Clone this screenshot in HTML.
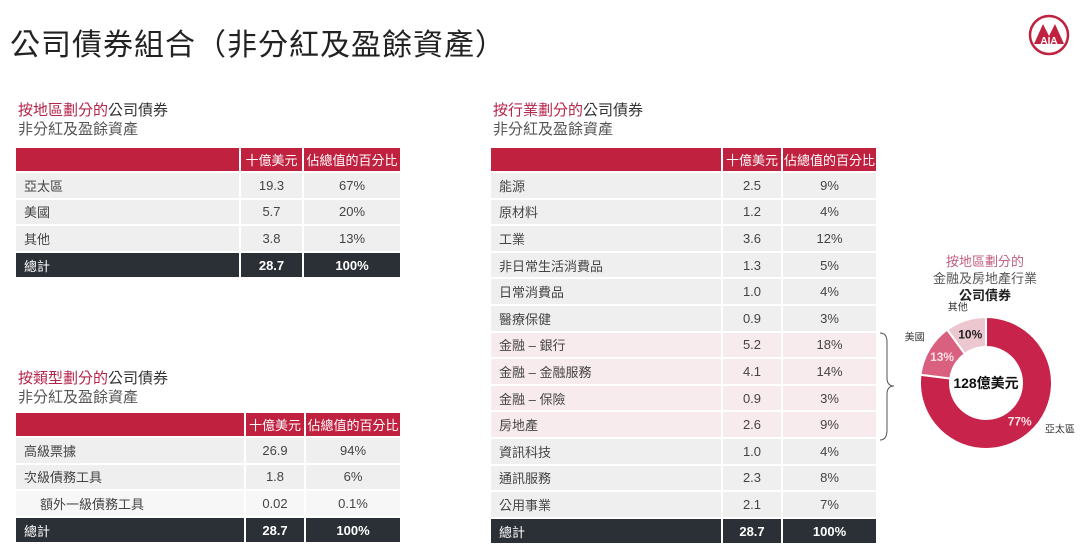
<!DOCTYPE html>
<html><head><meta charset="utf-8">
<style>
body{margin:0;width:1080px;height:552px;background:#fff;overflow:hidden;position:relative;font-family:"Liberation Sans","Noto Sans CJK TC",sans-serif;color:#444}
.abs{position:absolute}
h1{position:absolute;left:10px;top:20px;margin:0;font-size:30px;font-weight:400;color:#222;letter-spacing:1px}
.sec{position:absolute;font-size:15px;line-height:19px;color:#333}
.sec .r{color:#b5244a}
.sec .sub{color:#555;font-size:15px}
table{position:absolute;border-collapse:collapse;font-size:13px}
td{padding:0 0 0 8px;border:1px solid #fff;border-width:0 2px 2px 0;background:#efefef;height:24.6px;color:#444}
td.n{text-align:center;padding:0}
tr.h td{background:#c0213f;color:#fff;height:23px}
tr.t td{background:#2b2f36;color:#fff;font-weight:bold}
tr.t td:first-child{font-weight:normal}
tr.p td{background:#f8ebed}
</style></head><body>
<h1>公司債券組合（非分紅及盈餘資產）</h1>
<svg class="abs" style="left:1024px;top:14px" width="50" height="42">
<circle cx="25" cy="21" r="19" fill="none" stroke="#c0213f" stroke-width="2.5"/>
<path d="M10 30 L19 10 L25 22 L31 10 L40 30 Z" fill="#c0213f"/>
<text x="25" y="30" font-size="10" font-weight="bold" fill="#fff" text-anchor="middle" font-family="Liberation Sans">AIA</text>
</svg>

<div class="sec" style="left:18px;top:101px"><span class="r">按地區劃分的</span>公司債券<br><span class="sub">非分紅及盈餘資產</span></div>
<table style="left:16px;top:148px;width:386px">
<colgroup><col style="width:224px"><col style="width:63px"><col></colgroup>
<tr class="h"><td></td><td class="n">十億美元</td><td class="n">佔總值的百分比</td></tr>
<tr><td>亞太區</td><td class="n">19.3</td><td class="n">67%</td></tr>
<tr><td>美國</td><td class="n">5.7</td><td class="n">20%</td></tr>
<tr><td>其他</td><td class="n">3.8</td><td class="n">13%</td></tr>
<tr class="t"><td>總計</td><td class="n">28.7</td><td class="n">100%</td></tr>
</table>

<div class="sec" style="left:18px;top:369px"><span class="r">按類型劃分的</span>公司債券<br><span class="sub">非分紅及盈餘資產</span></div>
<table style="left:16px;top:413px;width:386px">
<colgroup><col style="width:229px"><col style="width:60px"><col></colgroup>
<tr class="h"><td></td><td class="n">十億美元</td><td class="n">佔總值的百分比</td></tr>
<tr><td>高級票據</td><td class="n">26.9</td><td class="n">94%</td></tr>
<tr><td>次級債務工具</td><td class="n">1.8</td><td class="n">6%</td></tr>
<tr><td style="padding-left:24px;background:#f7f7f7">額外一級債務工具</td><td class="n" style="background:#f7f7f7">0.02</td><td class="n" style="background:#f7f7f7">0.1%</td></tr>
<tr class="t"><td>總計</td><td class="n">28.7</td><td class="n">100%</td></tr>
</table>

<div class="sec" style="left:493px;top:101px"><span class="r">按行業劃分的</span>公司債券<br><span class="sub">非分紅及盈餘資產</span></div>
<table style="left:491px;top:148px;width:387px">
<colgroup><col style="width:231px"><col style="width:60px"><col></colgroup>
<tr class="h"><td></td><td class="n">十億美元</td><td class="n">佔總值的百分比</td></tr>
<tr><td>能源</td><td class="n">2.5</td><td class="n">9%</td></tr>
<tr><td>原材料</td><td class="n">1.2</td><td class="n">4%</td></tr>
<tr><td>工業</td><td class="n">3.6</td><td class="n">12%</td></tr>
<tr><td>非日常生活消費品</td><td class="n">1.3</td><td class="n">5%</td></tr>
<tr><td>日常消費品</td><td class="n">1.0</td><td class="n">4%</td></tr>
<tr><td>醫療保健</td><td class="n">0.9</td><td class="n">3%</td></tr>
<tr class="p"><td>金融 – 銀行</td><td class="n">5.2</td><td class="n">18%</td></tr>
<tr class="p"><td>金融 – 金融服務</td><td class="n">4.1</td><td class="n">14%</td></tr>
<tr class="p"><td>金融 – 保險</td><td class="n">0.9</td><td class="n">3%</td></tr>
<tr class="p"><td>房地產</td><td class="n">2.6</td><td class="n">9%</td></tr>
<tr><td>資訊科技</td><td class="n">1.0</td><td class="n">4%</td></tr>
<tr><td>通訊服務</td><td class="n">2.3</td><td class="n">8%</td></tr>
<tr><td>公用事業</td><td class="n">2.1</td><td class="n">7%</td></tr>
<tr class="t"><td>總計</td><td class="n">28.7</td><td class="n">100%</td></tr>
</table>

<svg class="abs" style="left:878px;top:330px" width="20" height="115">
<path d="M2 3 Q9 3 9 12 L9 48 Q9 56 16 56 Q9 56 9 64 L9 100 Q9 110 2 110" fill="none" stroke="#555" stroke-width="1"/>
</svg>

<div class="abs" style="left:905px;top:253px;width:160px;text-align:center;font-size:13px;line-height:17px;color:#555"><span style="color:#c06080">按地區劃分的</span><br>金融及房地產行業<br><b style="color:#222">公司債券</b></div>

<svg id="donut" class="abs" style="left:880px;top:300px" width="200" height="170"></svg>
<script>
const regions=["亞太區","美國","其他"];
const shares=[77,13,10];
const colors=["#c8234a","#d9607e","#edc7d0"];
const total="128億美元";
const svg=document.getElementById('donut');
const NS="http://www.w3.org/2000/svg";
const cx=106,cy=83,R=66,r=36;
const sum=shares.reduce((a,b)=>a+b,0);
function pt(rad,a){return [cx+rad*Math.sin(a),cy-rad*Math.cos(a)];}
let a0=0;
shares.forEach((v,i)=>{
  const a1=a0+v/sum*2*Math.PI;
  const large=(a1-a0)>Math.PI?1:0;
  const [x0,y0]=pt(R,a0),[x1,y1]=pt(R,a1),[x2,y2]=pt(r,a1),[x3,y3]=pt(r,a0);
  const p=document.createElementNS(NS,'path');
  p.setAttribute('d',`M${x0} ${y0}A${R} ${R} 0 ${large} 1 ${x1} ${y1}L${x2} ${y2}A${r} ${r} 0 ${large} 0 ${x3} ${y3}Z`);
  p.setAttribute('fill',colors[i]);p.setAttribute('stroke','#fff');p.setAttribute('stroke-width','2');
  
  
  svg.appendChild(p);
  const am=(a0+a1)/2;
  const [lx,ly]=pt((R+r)/2,am);
  const t=document.createElementNS(NS,'text');
  t.setAttribute('x',lx);t.setAttribute('y',ly+4);t.setAttribute('text-anchor','middle');
  t.setAttribute('font-size','12');t.setAttribute('font-weight','bold');
  t.setAttribute('fill',i==2?'#222':'#fbe0e6');
  t.textContent=v+'%';
  
  
  svg.appendChild(t);
  let ox,oy;
  if(i==0){[ox,oy]=pt(R+8,2.2);ox+=14;oy+=6;}
  else if(i==1){[ox,oy]=pt(R+10,am);ox-=6;oy-=4;}
  else{[ox,oy]=pt(R+6,am);ox-=6;oy-=4;}
  const l=document.createElementNS(NS,'text');
  l.setAttribute('x',ox);l.setAttribute('y',oy);l.setAttribute('text-anchor','middle');
  l.setAttribute('font-size','10');l.setAttribute('fill','#333');
  l.textContent=regions[i];
  
  
  svg.appendChild(l);
  a0=a1;
});
const c=document.createElementNS(NS,'text');
c.setAttribute('x',cx);c.setAttribute('y',cy+5);c.setAttribute('text-anchor','middle');
c.setAttribute('font-size','14');c.setAttribute('font-weight','bold');c.setAttribute('fill','#111');
c.textContent=total;


svg.appendChild(c);
</script>
</body></html>
